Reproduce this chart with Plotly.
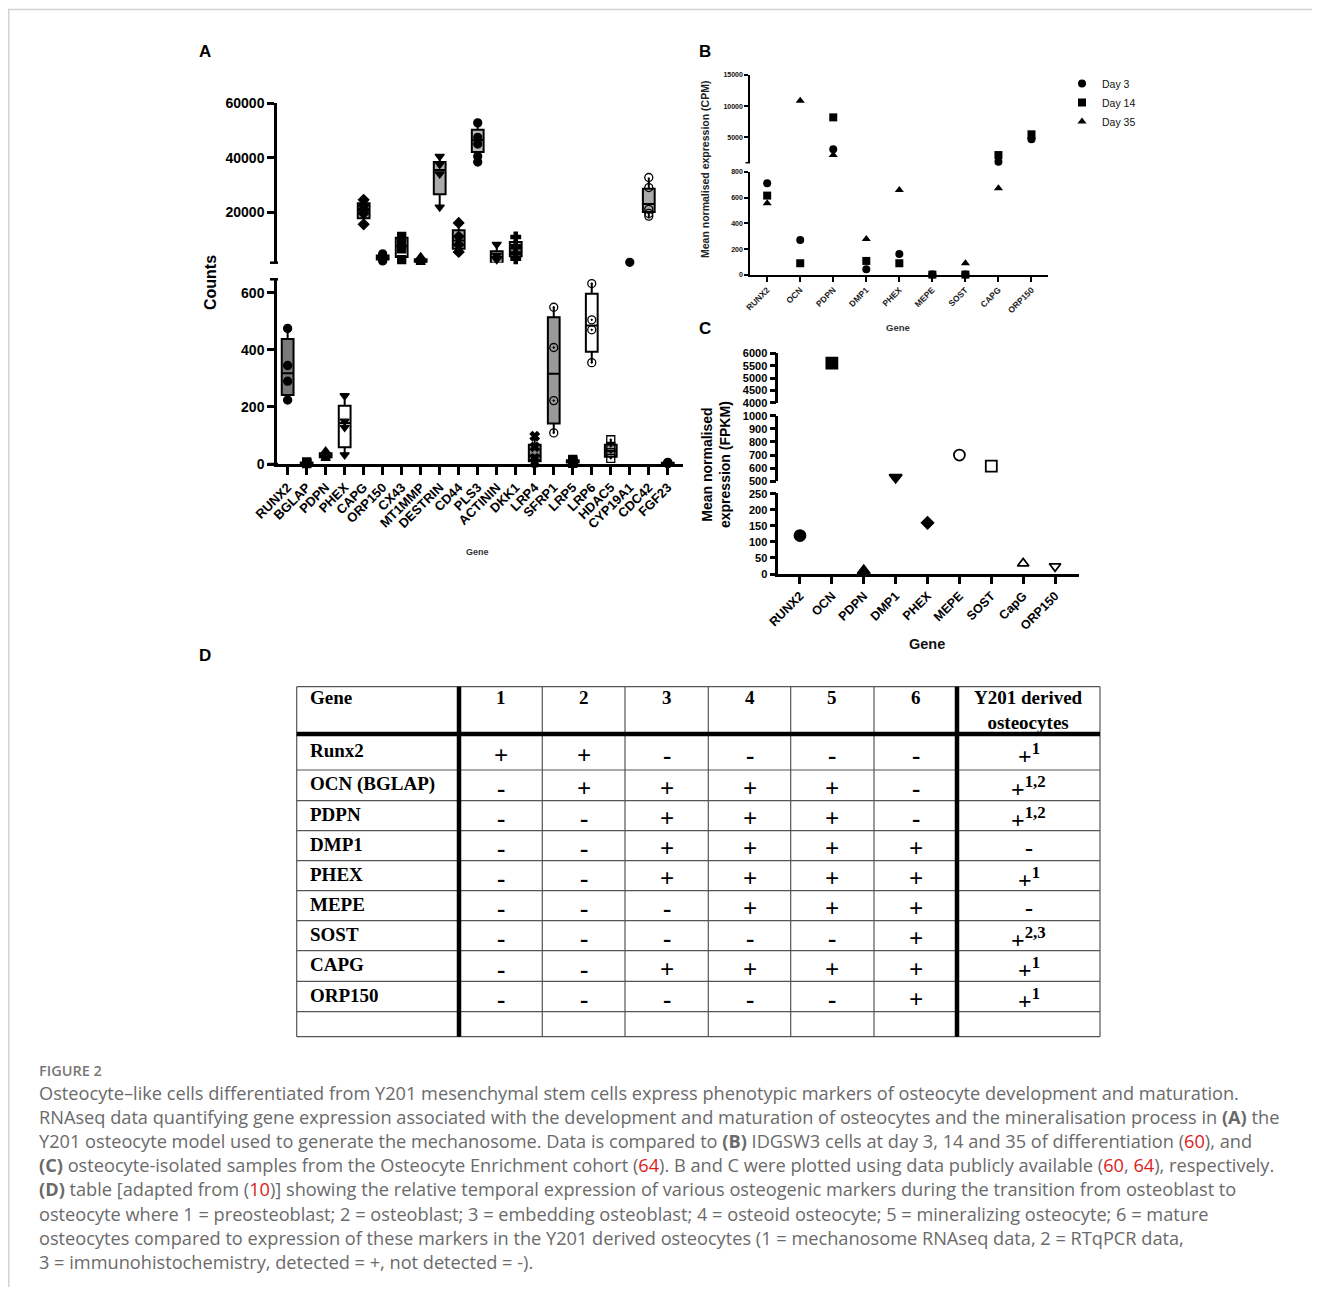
import plotly.graph_objects as go

# ---------------- Panel A data (Y201 RNAseq counts) ----------------
A_genes = ["RUNX2", "BGLAP", "PDPN", "PHEX", "CAPG", "ORP150", "CX43", "MT1MMP", "DESTRIN",
           "CD44", "PLS3", "ACTININ", "DKK1", "LRP4", "SFRP1", "LRP5", "LRP6", "HDAC5",
           "CYP19A1", "CDC42", "FGF23"]
A_min = [224, 1, 20, 32, 15500, 2000, 2500, 800, 21800, 5300, 38400, 300, 2800, 5, 109, 2, 355, 20, None, 17600, 1]
A_q1 = [242, 2, 24, 59, 17700, 2500, 3500, 1200, 26500, 6500, 42100, 1200, 3700, 10, 142, 5, 393, 25, None, 20000, 2]
A_med = [318, 3, 30, 144, 20600, 3200, 7500, 2000, 35500, 9500, 46400, 3500, 6500, 30, 316, 9, 485, 45, None, 23000, 3]
A_q3 = [438, 5, 38, 204, 23200, 4000, 10500, 2600, 38400, 13300, 50300, 5600, 9000, 67, 514, 13, 596, 67, None, 28600, 4]
A_max = [475, 7, 45, 239, 24500, 4600, 11000, 3500, 40500, 16000, 52800, 8100, 10800, 97, 549, 16, 632, 85, None, 32700, 6]
A_points = [
    [475, 345, 290, 224], [1, 3, 4, 7], [20, 28, 33, 45], [239, 150, 128, 32],
    [24500, 22500, 21000, 19500, 15500], [2000, 2800, 3500, 4600], [2500, 6500, 8000, 11000],
    [800, 1500, 2300, 3500], [40500, 37500, 34000, 21800], [16000, 11000, 8000, 5300],
    [52800, 47500, 45000, 40500, 38400], [8100, 4000, 2500, 300], [10800, 7500, 5000, 2800],
    [97, 60, 20, 5], [549, 408, 222, 109], [2, 8, 11, 16], [632, 505, 470, 355],
    [85, 62, 40, 20], [1500], [32700, 29000, 21000, 19500, 18500], [1, 3, 4, 6],
]
A_symbols = ["circle", "square", "triangle-up", "triangle-down", "diamond", "circle", "square",
             "triangle-up", "triangle-down", "diamond", "circle", "triangle-down", "cross",
             "x", "circle-open-dot", "square", "circle-open-dot", "square-open-dot", "circle",
             "circle-open", "circle"]
A_fill = ["#7a7a7a", "#999999", "#999999", "#ffffff", "#aaaaaa", "#aaaaaa", "#ffffff", "#aaaaaa",
          "#aaaaaa", "#aaaaaa", "#bbbbbb", "#aaaaaa", "#ffffff", "#888888", "#999999", "#999999",
          "#ffffff", "#999999", "#ffffff", "#aaaaaa", "#999999"]
A_low_ticks = [0, 200, 400, 600]
A_up_ticks = [20000, 40000, 60000]

# ---------------- Panel B data (IDG-SW3, CPM) ----------------
B_genes = ["RUNX2", "OCN", "PDPN", "DMP1", "PHEX", "MEPE", "SOST", "CAPG", "ORP150"]
B_day3 = [711, 271, 3065, 44, 163, 3, 3, 1070, 4680]
B_day14 = [615, 91, 8200, 109, 91, 3, 3, 2150, 5480]
B_day35 = [556, 10850, 2150, 279, 659, 3, 91, 672, 5100]
B_series = ["Day 3", "Day 14", "Day 35"]
B_symbols = ["circle", "square", "triangle-up"]
B_low_ticks = [0, 200, 400, 600, 800]
B_up_ticks = [5000, 10000, 15000]

# ---------------- Panel C data (Osteocyte Enrichment cohort, FPKM) ----------------
C_genes = ["RUNX2", "OCN", "PDPN", "DMP1", "PHEX", "MEPE", "SOST", "CapG", "ORP150"]
C_values = [120, 5600, 10, 530, 160, 700, 615, 33, 24]
C_symbols = ["circle", "square", "triangle-up", "triangle-down", "diamond", "circle-open",
             "square-open", "triangle-up-open", "triangle-down-open"]
C_sizes = [11, 11, 11, 11, 9, 11, 11, 10, 10]
C_ticks_low = [0, 50, 100, 150, 200, 250]
C_ticks_mid = [500, 600, 700, 800, 900, 1000]
C_ticks_top = [4000, 4500, 5000, 5500, 6000]

# ---------------- Panel D table ----------------
D_header = ["Gene", "1", "2", "3", "4", "5", "6", "Y201 derived<br>osteocytes"]
D_genes = ["Runx2", "OCN (BGLAP)", "PDPN", "DMP1", "PHEX", "MEPE", "SOST", "CAPG", "ORP150"]
D_stages = [
    ["+", "+", "-", "-", "-", "-"],
    ["-", "+", "+", "+", "+", "-"],
    ["-", "-", "+", "+", "+", "-"],
    ["-", "-", "+", "+", "+", "+"],
    ["-", "-", "+", "+", "+", "+"],
    ["-", "-", "-", "+", "+", "+"],
    ["-", "-", "-", "-", "-", "+"],
    ["-", "-", "+", "+", "+", "+"],
    ["-", "-", "-", "-", "-", "+"],
]
D_y201_sign = ["+", "+", "+", "-", "+", "-", "+", "+", "+"]
D_y201_sup = ["1", "1,2", "1,2", "", "1", "", "2,3", "1", "1"]

CAPTION_TITLE = "FIGURE 2"
RED = "#d9221c"
def ref(n):
    return f"<span style='color:{RED}'>{n}</span>"
CAPTION_LINES = [
    "Osteocyte\u2013like cells differentiated from Y201 mesenchymal stem cells express phenotypic markers of osteocyte development and maturation.",
    "RNAseq data quantifying gene expression associated with the development and maturation of osteocytes and the mineralisation process in <b>(A)</b> the",
    f"Y201 osteocyte model used to generate the mechanosome. Data is compared to <b>(B)</b> IDGSW3 cells at day 3, 14 and 35 of differentiation ({ref(60)}), and",
    f"<b>(C)</b> osteocyte-isolated samples from the Osteocyte Enrichment cohort ({ref(64)}). B and C were plotted using data publicly available ({ref(60)}, {ref(64)}), respectively.",
    f"<b>(D)</b> table [adapted from ({ref(10)})] showing the relative temporal expression of various osteogenic markers during the transition from osteoblast to",
    "osteocyte where 1 = preosteoblast; 2 = osteoblast; 3 = embedding osteoblast; 4 = osteoid osteocyte; 5 = mineralizing osteocyte; 6 = mature",
    "osteocytes compared to expression of these markers in the Y201 derived osteocytes (1 = mechanosome RNAseq data, 2 = RTqPCR data,",
    "3 = immunohistochemistry, detected = +, not detected = -).",
]

# ---------------- geometry helpers (page pixels -> paper) ----------------
FW, FH, OFF = 1304, 1279, 8
def px(x): return (x - OFF) / FW
def py(y): return 1 - (y - OFF) / FH
def dx(a, b): return [px(a), px(b)]
def dy(top, bot): return [py(bot), py(top)]

SANS = "Liberation Sans, Arial, Helvetica, sans-serif"
NARROW = "Liberation Sans Narrow, Arial Narrow, Liberation Sans, Arial, sans-serif"
SERIF = "Liberation Serif, Times New Roman, serif"
CAPF = "Open Sans, Noto Sans, sans-serif"

fig = go.Figure()

# ---- Panel A traces ----
for i, g in enumerate(A_genes):
    seg = "y2" if max(A_points[i]) > 1000 else "y"
    if A_q1[i] is not None:
        fig.add_trace(go.Box(
            x=[g], q1=[A_q1[i]], median=[A_med[i]], q3=[A_q3[i]],
            lowerfence=[A_min[i]], upperfence=[A_max[i]],
            xaxis="x", yaxis=seg, width=0.62, whiskerwidth=0,
            fillcolor=A_fill[i], line=dict(color="black", width=2),
            boxpoints=False, showlegend=False, hoverinfo="skip"))
    fig.add_trace(go.Scatter(
        x=[g] * len(A_points[i]), y=A_points[i], mode="markers", xaxis="x", yaxis=seg,
        marker=dict(symbol=A_symbols[i], size=8, color="black", line=dict(color="black", width=1.3)),
        cliponaxis=False, showlegend=False, hoverinfo="skip"))

# ---- Panel B traces ----
for name, sym, vals in zip(B_series, B_symbols, [B_day3, B_day14, B_day35]):
    lowx = [g for g, v in zip(B_genes, vals) if v <= 800]
    lowy = [v for v in vals if v <= 800]
    upx = [g for g, v in zip(B_genes, vals) if v > 800]
    upy = [v for v in vals if v > 800]
    fig.add_trace(go.Scatter(x=lowx, y=lowy, mode="markers", xaxis="x3", yaxis="y3", name=name,
                             legendgroup=name, showlegend=True, cliponaxis=False,
                             marker=dict(symbol=sym, size=8, color="black")))
    fig.add_trace(go.Scatter(x=upx, y=upy, mode="markers", xaxis="x3", yaxis="y4", name=name,
                             legendgroup=name, showlegend=False, cliponaxis=False,
                             marker=dict(symbol=sym, size=8, color="black")))

# ---- Panel C traces ----
for g, v, s, sz in zip(C_genes, C_values, C_symbols, C_sizes):
    seg = "y5" if v <= 250 else ("y6" if v <= 1000 else "y7")
    fig.add_trace(go.Scatter(x=[g], y=[v], mode="markers", xaxis="x5", yaxis=seg,
                             cliponaxis=False, showlegend=False,
                             marker=dict(symbol=s, size=sz, color="black",
                                         line=dict(color="black", width=1.8))))

common = dict(showgrid=False, zeroline=False, showline=True, linecolor="black",
              ticks="outside", tickcolor="black", automargin=False)
fA = dict(family=SANS, size=14, color="black", weight="bold")
fB = dict(family=SANS, size=7, color="#111", weight="bold")
fC = dict(family=NARROW, size=11, color="black", weight="bold")

fig.update_layout(
    width=FW, height=FH, autosize=False,
    margin=dict(l=0, r=0, t=0, b=0, pad=0, autoexpand=False),
    paper_bgcolor="white", plot_bgcolor="rgba(0,0,0,0)", boxmode="overlay",
    xaxis=dict(domain=dx(277, 683), anchor="y", type="category", categoryorder="array",
               categoryarray=A_genes, range=[-0.56, 20.8], linewidth=2.5, tickwidth=2.5,
               ticklen=8, tickangle=-45,
               tickfont=dict(family=SANS, size=13, color="black", weight="bold"), **common),
    yaxis=dict(domain=dy(279, 464), anchor="x", range=[0, 648], tickvals=A_low_ticks,
               tickformat="d", linewidth=2.5, tickwidth=2.5, ticklen=7, tickfont=fA, **common),
    yaxis2=dict(domain=dy(103.3, 262.7), anchor="x", range=[1360, 60000], tickvals=A_up_ticks,
                tickformat="d", linewidth=2.5, tickwidth=2.5, ticklen=7, tickfont=fA, **common),
    xaxis3=dict(domain=dx(750, 1048), anchor="y3", type="category", categoryorder="array",
                categoryarray=B_genes, range=[-0.52, 8.5], linewidth=1.5, tickwidth=1.5,
                ticklen=5, tickangle=-45,
                tickfont=dict(family=SANS, size=8.5, color="#222", weight="bold"), **common),
    yaxis3=dict(domain=dy(171.7, 275), anchor="x3", range=[0, 800], tickvals=B_low_ticks,
                tickformat="d", linewidth=1.5, tickwidth=1.5, ticklen=4, tickfont=fB, **common),
    yaxis4=dict(domain=dy(75, 162.7), anchor="x3", range=[923, 15000], tickvals=B_up_ticks,
                tickformat="d", linewidth=1.5, tickwidth=1.5, ticklen=4, tickfont=fB, **common),
    xaxis5=dict(domain=dx(778.3, 1079.3), anchor="y5", type="category", categoryorder="array",
                categoryarray=C_genes, range=[-0.68, 8.76], linewidth=2.5, tickwidth=2.5,
                ticklen=7, tickangle=-45,
                tickfont=dict(family=NARROW, size=12.5, color="black", weight="bold"), **common),
    yaxis5=dict(domain=dy(493.3, 574), anchor="x5", range=[0, 252], tickvals=C_ticks_low,
                tickformat="d", linewidth=2.5, tickwidth=2.5, ticklen=6, tickfont=fC, **common),
    yaxis6=dict(domain=dy(415.7, 481.3), anchor="x5", range=[500, 1000], tickvals=C_ticks_mid,
                tickformat="d", linewidth=2.5, tickwidth=2.5, ticklen=6, tickfont=fC, **common),
    yaxis7=dict(domain=dy(353.3, 402.7), anchor="x5", range=[4000, 6000], tickvals=C_ticks_top,
                tickformat="d", linewidth=2.5, tickwidth=2.5, ticklen=6, tickfont=fC, **common),
    legend=dict(x=px(1062), y=py(69), xanchor="left", yanchor="top", bgcolor="rgba(0,0,0,0)",
                font=dict(family=SANS, size=10.5, color="#111"), tracegroupgap=0, itemwidth=30),
)

shapes = []
def hline(x0, x1, y, w=1.0, c="black"):
    shapes.append(dict(type="line", xref="paper", yref="paper", x0=px(x0), x1=px(x1),
                       y0=py(y), y1=py(y), line=dict(color=c, width=w)))
def vline(x, y0, y1, w=1.0, c="black"):
    shapes.append(dict(type="line", xref="paper", yref="paper", x0=px(x), x1=px(x),
                       y0=py(y0), y1=py(y1), line=dict(color=c, width=w)))

# page frame
hline(8, 1320, 9.5, 1.5, "#d2d2d2")
vline(8.8, 9.5, 1295, 1.5, "#d2d2d2")
# axis-break caps
hline(270, 278, 262.7, 2.5)
hline(270, 278, 279.3, 2.5)
hline(268, 278, 464, 2.5)
hline(745.5, 750, 162.7, 1.5)

# table grid
col_edges = [296.7, 459, 542.3, 625, 708.3, 790.7, 874, 957, 1100]
row_edges = [686.7, 734, 770, 800.7, 830.7, 860.7, 890.7, 920.7, 950.7, 981.3, 1011.7, 1036.7]
GRID = "#555555"
for k, xe in enumerate(col_edges):
    if k in (1, 7):
        continue
    vline(xe, row_edges[0], row_edges[-1], 1.2, GRID)
for k, ye in enumerate(row_edges):
    if k == 1:
        continue
    hline(col_edges[0], col_edges[-1], ye, 1.2, GRID)
hline(col_edges[0], col_edges[-1], row_edges[1], 4.5, "black")
vline(col_edges[1], row_edges[0], row_edges[-1], 4.5, "black")
vline(col_edges[7], row_edges[0], row_edges[-1], 4.5, "black")

ann = []
def text(x, y, t, size, family=SANS, color="black", xanchor="center", yanchor="middle",
         angle=0, weight="normal"):
    ann.append(dict(x=px(x), y=py(y), xref="paper", yref="paper", text=t, showarrow=False,
                    xanchor=xanchor, yanchor=yanchor, textangle=angle,
                    font=dict(family=family, size=size, color=color, weight=weight)))

# panel letters
for lab, (lx, ly) in zip("ABCD", [(205, 52), (705, 52), (705, 328), (205, 655)]):
    text(lx, ly, lab, 17, weight="bold")

# axis titles
text(210, 283, "Counts", 16, angle=-90, weight="bold")
text(478, 552, "Gene", 9, color="#333", weight="bold")
text(705, 170, "Mean normalised expression (CPM)", 10.5, color="#222", angle=-90, weight="bold")
text(898, 327, "Gene", 9.5, color="#333", weight="bold")
text(716, 465, "Mean normalised<br>expression (FPKM)", 14, angle=-90, weight="bold")
text(927, 644, "Gene", 14.5, color="#111", weight="bold")

# table text
for j, h in enumerate(D_header):
    if j == 0:
        text(col_edges[0] + 11, 698, h, 19, family=SERIF, xanchor="left", weight="bold")
    elif j == len(D_header) - 1:
        text((col_edges[j] + col_edges[j + 1]) / 2, 709.5, h, 19, family=SERIF, weight="bold")
    else:
        text((col_edges[j] + col_edges[j + 1]) / 2, 698, h, 19, family=SERIF, weight="bold")
for r, g in enumerate(D_genes):
    top, bot = row_edges[r + 1], row_edges[r + 2]
    mid = (top + bot) / 2
    text(col_edges[0] + 11, mid - 1.5, g, 19, family=SERIF, xanchor="left", weight="bold")
    for c, v in enumerate(D_stages[r]):
        text((col_edges[c + 1] + col_edges[c + 2]) / 2, mid + 3, v, 25, family=SERIF, weight="bold")
    sup = f"<sup>{D_y201_sup[r]}</sup>" if D_y201_sup[r] else ""
    text((col_edges[7] + col_edges[8]) / 2, mid + 2, D_y201_sign[r] + sup, 24, family=SERIF,
         weight="bold")

# caption
CAP_COLOR = "#6a6a6a"
text(37, 1070, CAPTION_TITLE, 14.5, family=CAPF, color="#777777", xanchor="left", weight=600)
for k, line in enumerate(CAPTION_LINES):
    text(37, 1093 + 24.1 * k, line, 18.2, family=CAPF, color=CAP_COLOR, xanchor="left")

fig.update_layout(shapes=shapes, annotations=ann)
fig.write_html("out.html")
